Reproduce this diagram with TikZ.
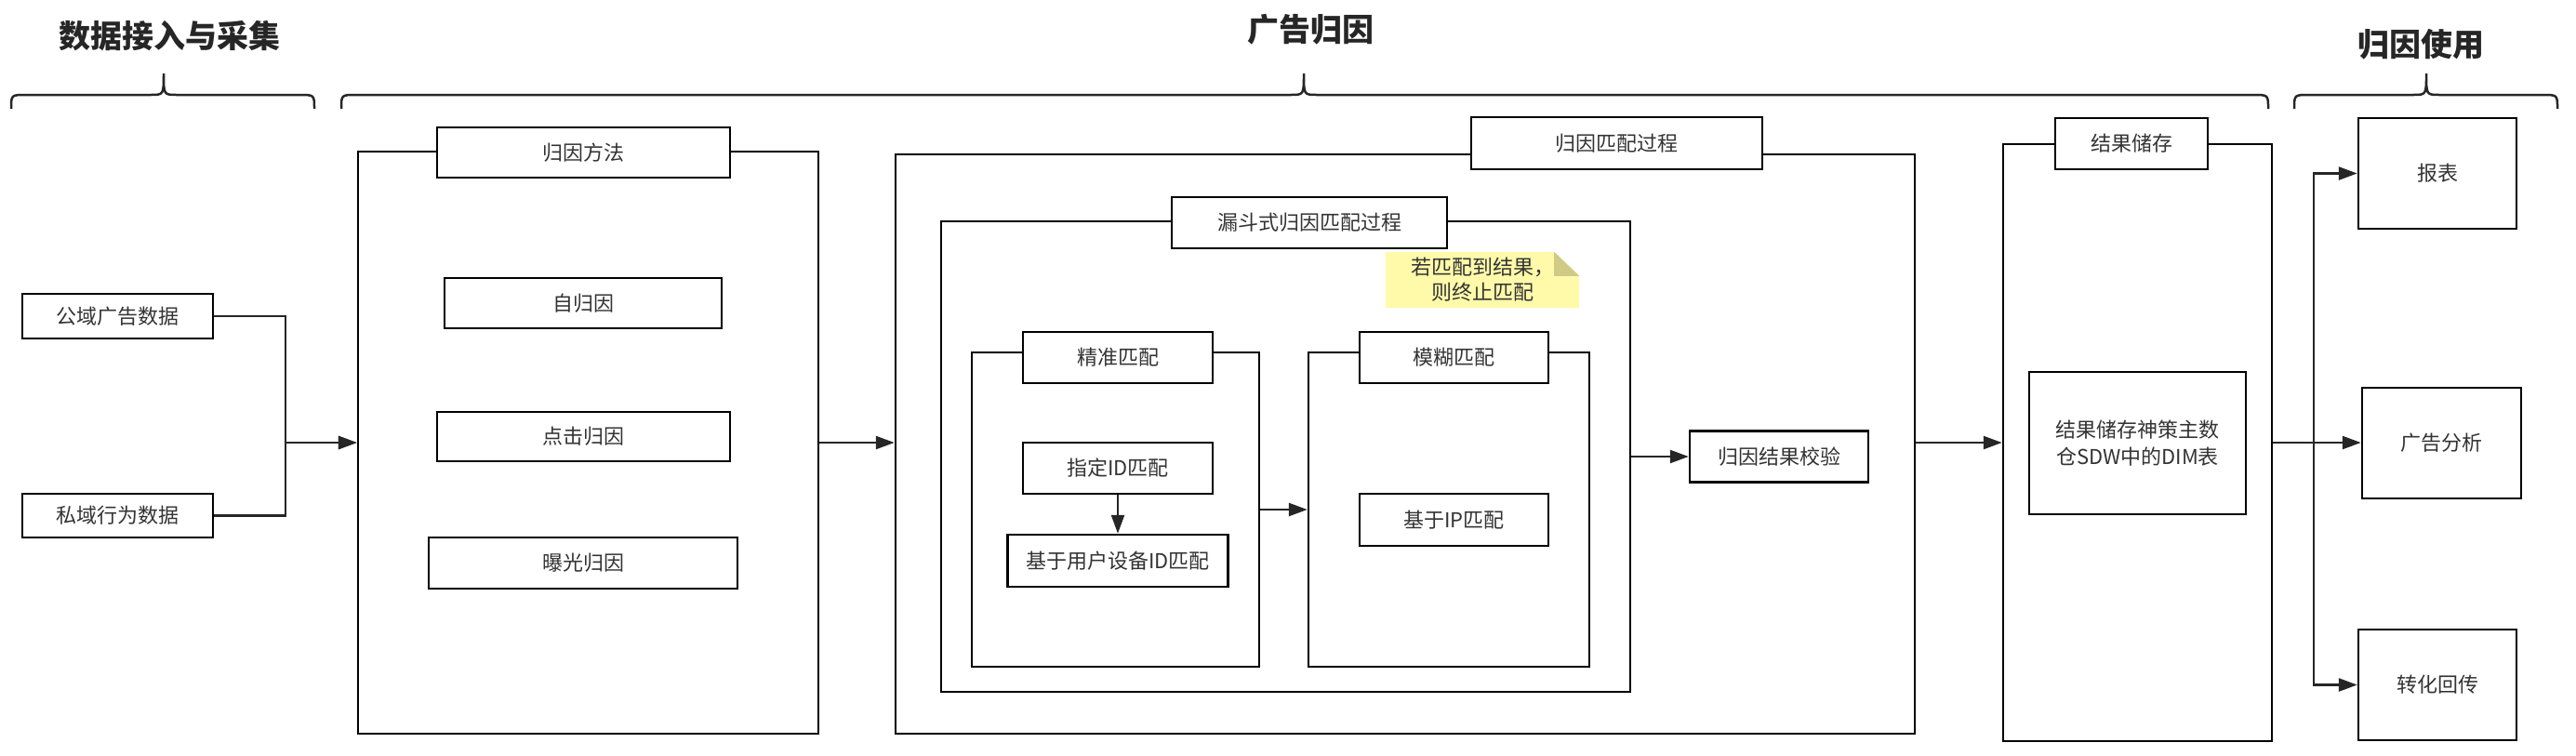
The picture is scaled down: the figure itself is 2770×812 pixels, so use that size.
\documentclass[tikz,border=0pt]{standalone}
\usepackage{fontspec}
\setmainfont{Noto Sans CJK SC}
\usepackage{tikz}
\usetikzlibrary{arrows.meta,positioning,backgrounds}
\definecolor{textgrey}{RGB}{51,51,51}
\definecolor{notefill}{RGB}{255,250,170}
\definecolor{notefold}{RGB}{207,203,135}
\tikzset{
    box/.style={
           rectangle,
           draw=black, line width=2.5pt,
           fill=white,
           text=textgrey,
           font=\fontsize{22}{27}\selectfont,
           inner sep=0pt,
           align=center,
           },
    group/.style={
           rectangle,
           draw=black, line width=2.5pt,
           inner sep=0pt,
           },
    note/.style={
           rectangle,
           text=textgrey,
           font=\fontsize{22}{27}\selectfont,
           inner sep=0pt,
           align=center,
           },
    title/.style={
           font=\fontsize{34}{40}\selectfont\bfseries,
           text=black!85,
           },
    bracket/.style={
           draw=black!85, line width=2.5pt,
           },
    link/.style={
           ->, draw=black!85, line width=2.5pt,
           },
}
% curly bracket: left x, tip x, right x, y of the bar
\newcommand{\curlybrace}[4]{%
  \draw[bracket] (#1,#4+15) .. controls (#1,#4) .. (#1+16,#4) -- (#2-14,#4)
    .. controls (#2,#4) .. (#2,#4-23) .. controls (#2,#4) .. (#2+14,#4)
    -- (#3-16,#4) .. controls (#3,#4) .. (#3,#4+15);}

\begin{document}
\begin{tikzpicture}[x=1pt,y=-1pt,>={Triangle[length=20pt,width=14pt]}]
 \useasboundingbox (0,0) rectangle (2770,812);

 % titles over the brackets
 \node[title] (TIN) at (182,39) {数据接入与采集};
 \node[title] (TAD) at (1409,32) {广告归因};
 \node[title] (TUSE) at (2603,48) {归因使用};
 \curlybrace{12}{176}{338}{102}
 \curlybrace{367}{1402}{2439}{102}
 \curlybrace{2467}{2609}{2750}{102}

 % data sources
 \node[box, minimum width=205pt, minimum height=48pt] (PUB) at (126.5,340) {公域广告数据};
 \node[box, minimum width=205pt, minimum height=47pt] (PRIV) at (126.5,554.5) {私域行为数据};
 \coordinate (JOINL) at (307,476);

 % attribution methods
 \node[group, minimum width=495pt, minimum height=626pt] (METHOD) at (632.5,476) {};
 \node[box, minimum width=315pt, minimum height=54pt] (METHODT) at (627.5,164) {归因方法};
 \node[box, minimum width=298pt, minimum height=54pt] (SELF) at (627,326) {自归因};
 \node[box, minimum width=315pt, minimum height=53pt] (CLICK) at (627.5,469.5) {点击归因};
 \node[box, minimum width=332pt, minimum height=55pt] (EXPO) at (627,605.5) {曝光归因};

 % matching process, with the funnel inside
 \node[group, minimum width=1096pt, minimum height=623pt] (MATCH) at (1511,477.5) {};
 \node[box, minimum width=313pt, minimum height=56pt] (MATCHT) at (1738.5,154) {归因匹配过程};
 \node[group, minimum width=741pt, minimum height=506pt] (FUNNEL) at (1382.5,491) {};
 \node[box, minimum width=296pt, minimum height=55pt] (FUNNELT) at (1408,239.5) {漏斗式归因匹配过程};
 \node[note, minimum width=208pt, minimum height=60pt] (NOTE) at (1594,301) {若匹配到结果，\\则终止匹配};
 \begin{scope}[on background layer]
  \fill[notefill] (NOTE.south west) -- (NOTE.north west) -- ([xshift=-27pt]NOTE.north east)
    -- ([yshift=-26pt]NOTE.north east) -- (NOTE.south east) -- cycle;
  \fill[notefold] ([xshift=-27pt]NOTE.north east) -- ([yshift=-26pt]NOTE.north east)
    -- ([xshift=-27pt,yshift=-26pt]NOTE.north east) -- cycle;
 \end{scope}

 % exact matching
 \node[group, minimum width=309pt, minimum height=338pt] (EXACT) at (1199.5,548) {};
 \node[box, minimum width=204pt, minimum height=55pt] (EXACTT) at (1202,384.5) {精准匹配};
 \node[box, minimum width=204pt, minimum height=55pt] (SPECID) at (1202,503.5) {指定ID匹配};
 \node[box, minimum width=237pt, minimum height=56pt] (DEVID) at (1202,603) {基于用户设备ID匹配};

 % fuzzy matching
 \node[group, minimum width=302pt, minimum height=338pt] (FUZZY) at (1558,548) {};
 \node[box, minimum width=203pt, minimum height=55pt] (FUZZYT) at (1563.5,384.5) {模糊匹配};
 \node[box, minimum width=203pt, minimum height=56pt] (IPM) at (1563.5,559) {基于IP匹配};

 \node[box, minimum width=192pt, minimum height=55pt] (CHECK) at (1913,491) {归因结果校验};

 % result storage
 \node[group, minimum width=289pt, minimum height=642pt] (STORE) at (2298.5,476) {};
 \node[box, minimum width=164pt, minimum height=55pt] (STORET) at (2292,154.5) {结果储存};
 \node[box, minimum width=233pt, minimum height=153pt, font=\fontsize{22}{29}\selectfont] (TABLE) at (2298.5,476.5) {结果储存神策主数\\仓SDW中的DIM表};
 \coordinate (JOINR) at (2488,476);

 % usage
 \node[box, minimum width=170pt, minimum height=119pt] (REPORT) at (2621,186.5) {报表};
 \node[box, minimum width=171pt, minimum height=119pt] (ANALYSIS) at (2625.5,476.5) {广告分析};
 \node[box, minimum width=170pt, minimum height=119pt] (FEEDBACK) at (2621,736.5) {转化回传};

 % connectors
 \draw[link] (PUB.east) -| (JOINL) -- (METHOD.west);
 \draw[link] (PRIV.east) -| (JOINL) -- (METHOD.west);
 \draw[link] (METHOD.east) -- (MATCH.west |- METHOD.east);
 \draw[link] (SPECID) -- (DEVID);
 \draw[link] (EXACT) -- (FUZZY);
 \draw[link] (FUNNEL) -- (CHECK);
 \draw[link] (MATCH.east |- STORE.west) -- (STORE.west);
 \draw[link] (STORE.east) -- (JOINR) |- (REPORT.west);
 \draw[link] (JOINR) -- (ANALYSIS.west |- JOINR);
 \draw[link] (JOINR) |- (FEEDBACK.west);
\end{tikzpicture}
\end{document}
